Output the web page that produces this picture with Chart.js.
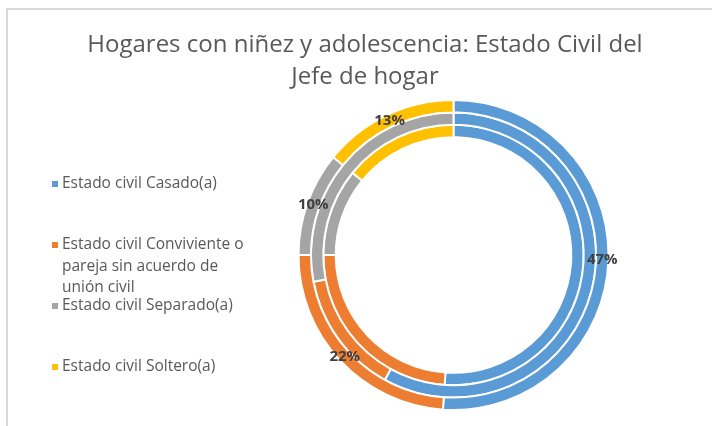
<!DOCTYPE html>
<html>
<head>
<meta charset="utf-8">
<script src="https://cdn.jsdelivr.net/npm/chart.js@4"></script>
<style>
  html, body { margin: 0; padding: 0; background: #fff; }
  #wrap { position: relative; width: 712px; height: 426px; }
  #frame { position: absolute; left: 6px; top: 8px; right: -4px; bottom: -4px;
           border-top: 2px solid #d9d9d9; border-left: 2px solid #d9d9d9; }
  canvas { position: absolute; left: 0; top: 0; }
</style>
</head>
<body>
<div id="wrap">
  <div id="frame"></div>
  <canvas id="grafico" width="712" height="426"></canvas>
</div>
<script>
// ---- DATOS ----
const titulo = ["Hogares con niñez y adolescencia: Estado Civil del", "Jefe de hogar"];
const categorias = [
  "Estado civil Casado(a)",
  "Estado civil Conviviente o pareja sin acuerdo de unión civil",
  "Estado civil Separado(a)",
  "Estado civil Soltero(a)"
];
const colores = ["#5b9bd5", "#ed7d31", "#a5a5a5", "#ffc000"];
// anillos, de afuera hacia adentro
const anilloExterior = [47, 22, 10, 13];
const anilloMedio = [58, 14, 28, 0];
const anilloInterior = [47, 22, 10, 13];

const FUENTE = "'Open Sans', 'Noto Sans', sans-serif";

// ---- TITULO, LEYENDA Y ETIQUETAS ----
const textos = {
  id: "textos",
  afterDraw(chart) {
    const ctx = chart.ctx;
    ctx.save();

    // titulo
    ctx.fillStyle = "#595959";
    ctx.font = "24px " + FUENTE;
    ctx.textAlign = "center";
    ctx.textBaseline = "middle";
    titulo.forEach((linea, i) => ctx.fillText(linea, 365, 45 + i * 32));

    // leyenda
    ctx.font = "15.5px " + FUENTE;
    ctx.textAlign = "left";
    categorias.forEach((cat, i) => {
      const y = 184 + i * 61;
      ctx.fillStyle = colores[i];
      ctx.fillRect(52, y - 3, 6, 6);
      ctx.fillStyle = "#595959";
      let lineas = [], linea = "";
      cat.split(" ").forEach((p) => {
        const prueba = linea ? linea + " " + p : p;
        if (ctx.measureText(prueba).width > 192 && linea) {
          lineas.push(linea);
          linea = p;
        } else {
          linea = prueba;
        }
      });
      lineas.push(linea);
      lineas.forEach((l, j) => ctx.fillText(l, 62, y + j * 21.5));
    });

    // etiquetas del anillo exterior
    const meta = chart.getDatasetMeta(0);
    ctx.font = "bold 15px " + FUENTE;
    ctx.fillStyle = "#404040";
    ctx.textAlign = "center";
    meta.data.forEach((arco, i) => {
      const p = arco.tooltipPosition();
      ctx.fillText(anilloExterior[i] + "%", p.x, p.y);
    });
    ctx.restore();
  }
};

const ctx = document.getElementById("grafico").getContext("2d");

const chart = new Chart(ctx, {
  type: "doughnut",
  data: {
    labels: categorias,
    datasets: [
      { data: anilloExterior, backgroundColor: colores },
      { data: anilloMedio, backgroundColor: colores },
      { data: anilloInterior, backgroundColor: colores }
    ]
  },
  options: {
    responsive: false,
    animation: false,
    cutout: "76%",
    borderColor: "#ffffff",
    borderWidth: 2,
    hoverOffset: 0,
    layout: { padding: { left: 297.5, right: 102.5, top: 99, bottom: 15 } },
    plugins: {
      legend: { display: false },
      title: { display: false },
      tooltip: { enabled: false }
    }
  },
  plugins: [textos]
});
</script>
</body>
</html>
